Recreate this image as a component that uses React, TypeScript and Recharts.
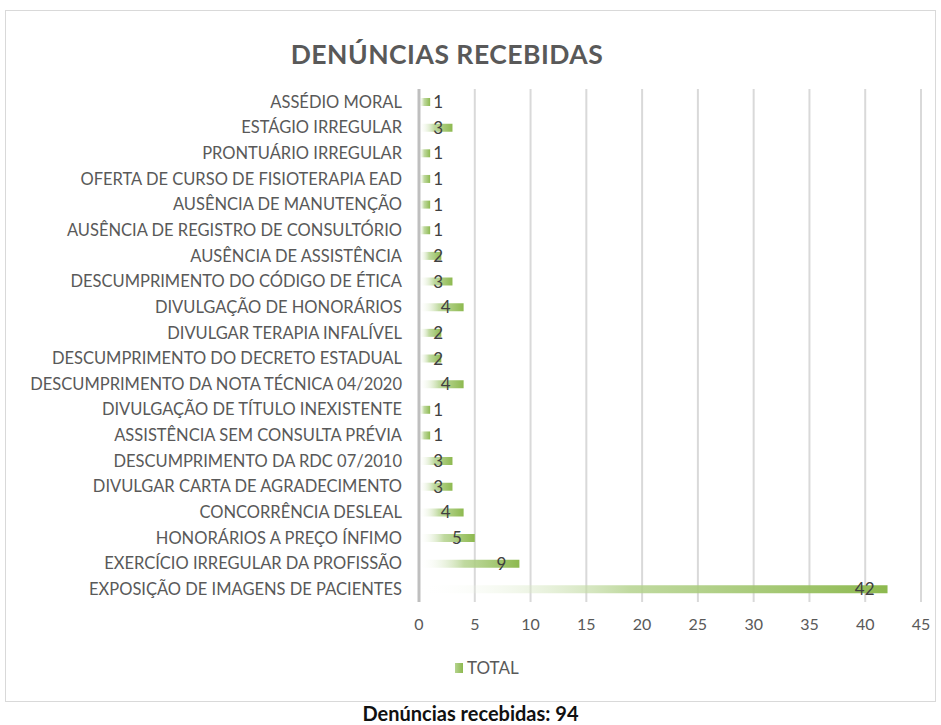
import React from "react";
import {
  BarChart,
  Bar,
  XAxis,
  YAxis,
  CartesianGrid,
  Legend,
  LabelList,
} from "recharts";

const categories = [
  "ASSÉDIO MORAL",
  "ESTÁGIO IRREGULAR",
  "PRONTUÁRIO IRREGULAR",
  "OFERTA DE CURSO DE FISIOTERAPIA EAD",
  "AUSÊNCIA DE MANUTENÇÃO",
  "AUSÊNCIA DE REGISTRO DE CONSULTÓRIO",
  "AUSÊNCIA DE ASSISTÊNCIA",
  "DESCUMPRIMENTO DO CÓDIGO DE ÉTICA",
  "DIVULGAÇÃO DE HONORÁRIOS",
  "DIVULGAR TERAPIA INFALÍVEL",
  "DESCUMPRIMENTO DO DECRETO ESTADUAL",
  "DESCUMPRIMENTO DA NOTA TÉCNICA 04/2020",
  "DIVULGAÇÃO DE TÍTULO INEXISTENTE",
  "ASSISTÊNCIA SEM CONSULTA PRÉVIA",
  "DESCUMPRIMENTO DA RDC 07/2010",
  "DIVULGAR CARTA DE AGRADECIMENTO",
  "CONCORRÊNCIA DESLEAL",
  "HONORÁRIOS A PREÇO ÍNFIMO",
  "EXERCÍCIO IRREGULAR DA PROFISSÃO",
  "EXPOSIÇÃO DE IMAGENS DE PACIENTES",
];

const totals = [1, 3, 1, 1, 1, 1, 2, 3, 4, 2, 2, 4, 1, 1, 3, 3, 4, 5, 9, 42];

const xTicks = [0, 5, 10, 15, 20, 25, 30, 35, 40, 45];

const data = categories.map((name, i) => ({ name, total: totals[i] }));

const FONT = "Lato, 'Open Sans', sans-serif";
const GREEN = "#8db94f";

// label right-aligned just inside the bar end, but kept clear of the axis
const ValueLabel = (props: any) => {
  const { x, y, width, height, value } = props;
  const tx = Math.max(x + width - 13, x + 24);
  return (
    <text
      x={tx}
      y={y + height / 2}
      dy={6}
      textAnchor="end"
      fontSize={17}
      fontFamily={FONT}
      fill="#404040"
    >
      {value}
    </text>
  );
};

const LegendBox = () => (
  <div
    style={{
      display: "flex",
      alignItems: "center",
      marginLeft: 455,
      fontFamily: FONT,
      fontSize: 17,
      color: "#595959",
    }}
  >
    <span
      style={{
        display: "inline-block",
        width: 8,
        height: 10,
        background: "linear-gradient(to right, #b5d38f, " + GREEN + ")",
        marginRight: 4,
      }}
    />
    TOTAL
  </div>
);

export default function App() {
  return (
    <div
      style={{
        position: "absolute",
        left: 0,
        top: 0,
        width: 941,
        height: 725,
        background: "#fff",
      }}
    >
      <div
        style={{
          position: "absolute",
          left: 5,
          top: 10,
          width: 929,
          height: 690,
          border: "1px solid #d9d9d9",
        }}
      />
      <div
        style={{
          position: "absolute",
          left: 0,
          top: 38,
          width: 894,
          textAlign: "center",
          fontFamily: FONT,
          fontWeight: "bold",
          fontSize: 26.5,
          color: "#595959",
          letterSpacing: 0.5,
        }}
      >
        DENÚNCIAS RECEBIDAS
      </div>
      <div style={{ position: "absolute", left: 0, top: 0 }}>
        <BarChart
          width={941}
          height={700}
          data={data}
          layout="vertical"
          margin={{ top: 89, right: 20, bottom: 37, left: 0 }}
          barCategoryGap={9}
        >
          <defs>
            <linearGradient id="barFade" x1="0" y1="0" x2="1" y2="0">
              <stop offset="0%" stopColor="#ffffff" stopOpacity={0} />
              <stop offset="45%" stopColor="#b5d38f" stopOpacity={0.85} />
              <stop offset="100%" stopColor={GREEN} stopOpacity={1} />
            </linearGradient>
          </defs>
          <CartesianGrid horizontal={false} stroke="#d9d9d9" strokeWidth={2} />
          <XAxis
            type="number"
            domain={[0, 45]}
            ticks={xTicks}
            axisLine={false}
            tickLine={false}
            tickMargin={11}
            tick={{ fontSize: 16, fontFamily: FONT, fill: "#595959" }}
            height={40}
          />
          <YAxis
            type="category"
            dataKey="name"
            width={419}
            interval={0}
            axisLine={{ stroke: "#bfbfbf", strokeWidth: 3 }}
            tickLine={false}
            tickMargin={11}
            tick={{ fontSize: 16.5, fontFamily: FONT, fill: "#595959" }}
          />
          <Legend
            verticalAlign="bottom"
            content={() => <LegendBox />}
            wrapperStyle={{ bottom: 22 }}
          />
          <Bar
            dataKey="total"
            name="TOTAL"
            fill="url(#barFade)"
            barSize={8}
            isAnimationActive={false}
          >
            <LabelList dataKey="total" content={ValueLabel} />
          </Bar>
        </BarChart>
      </div>
      <div
        style={{
          position: "absolute",
          left: 0,
          top: 701,
          width: 941,
          textAlign: "center",
          fontFamily: FONT,
          fontWeight: "bold",
          fontSize: 20,
          color: "#111",
        }}
      >
        Denúncias recebidas: 94
      </div>
    </div>
  );
}
